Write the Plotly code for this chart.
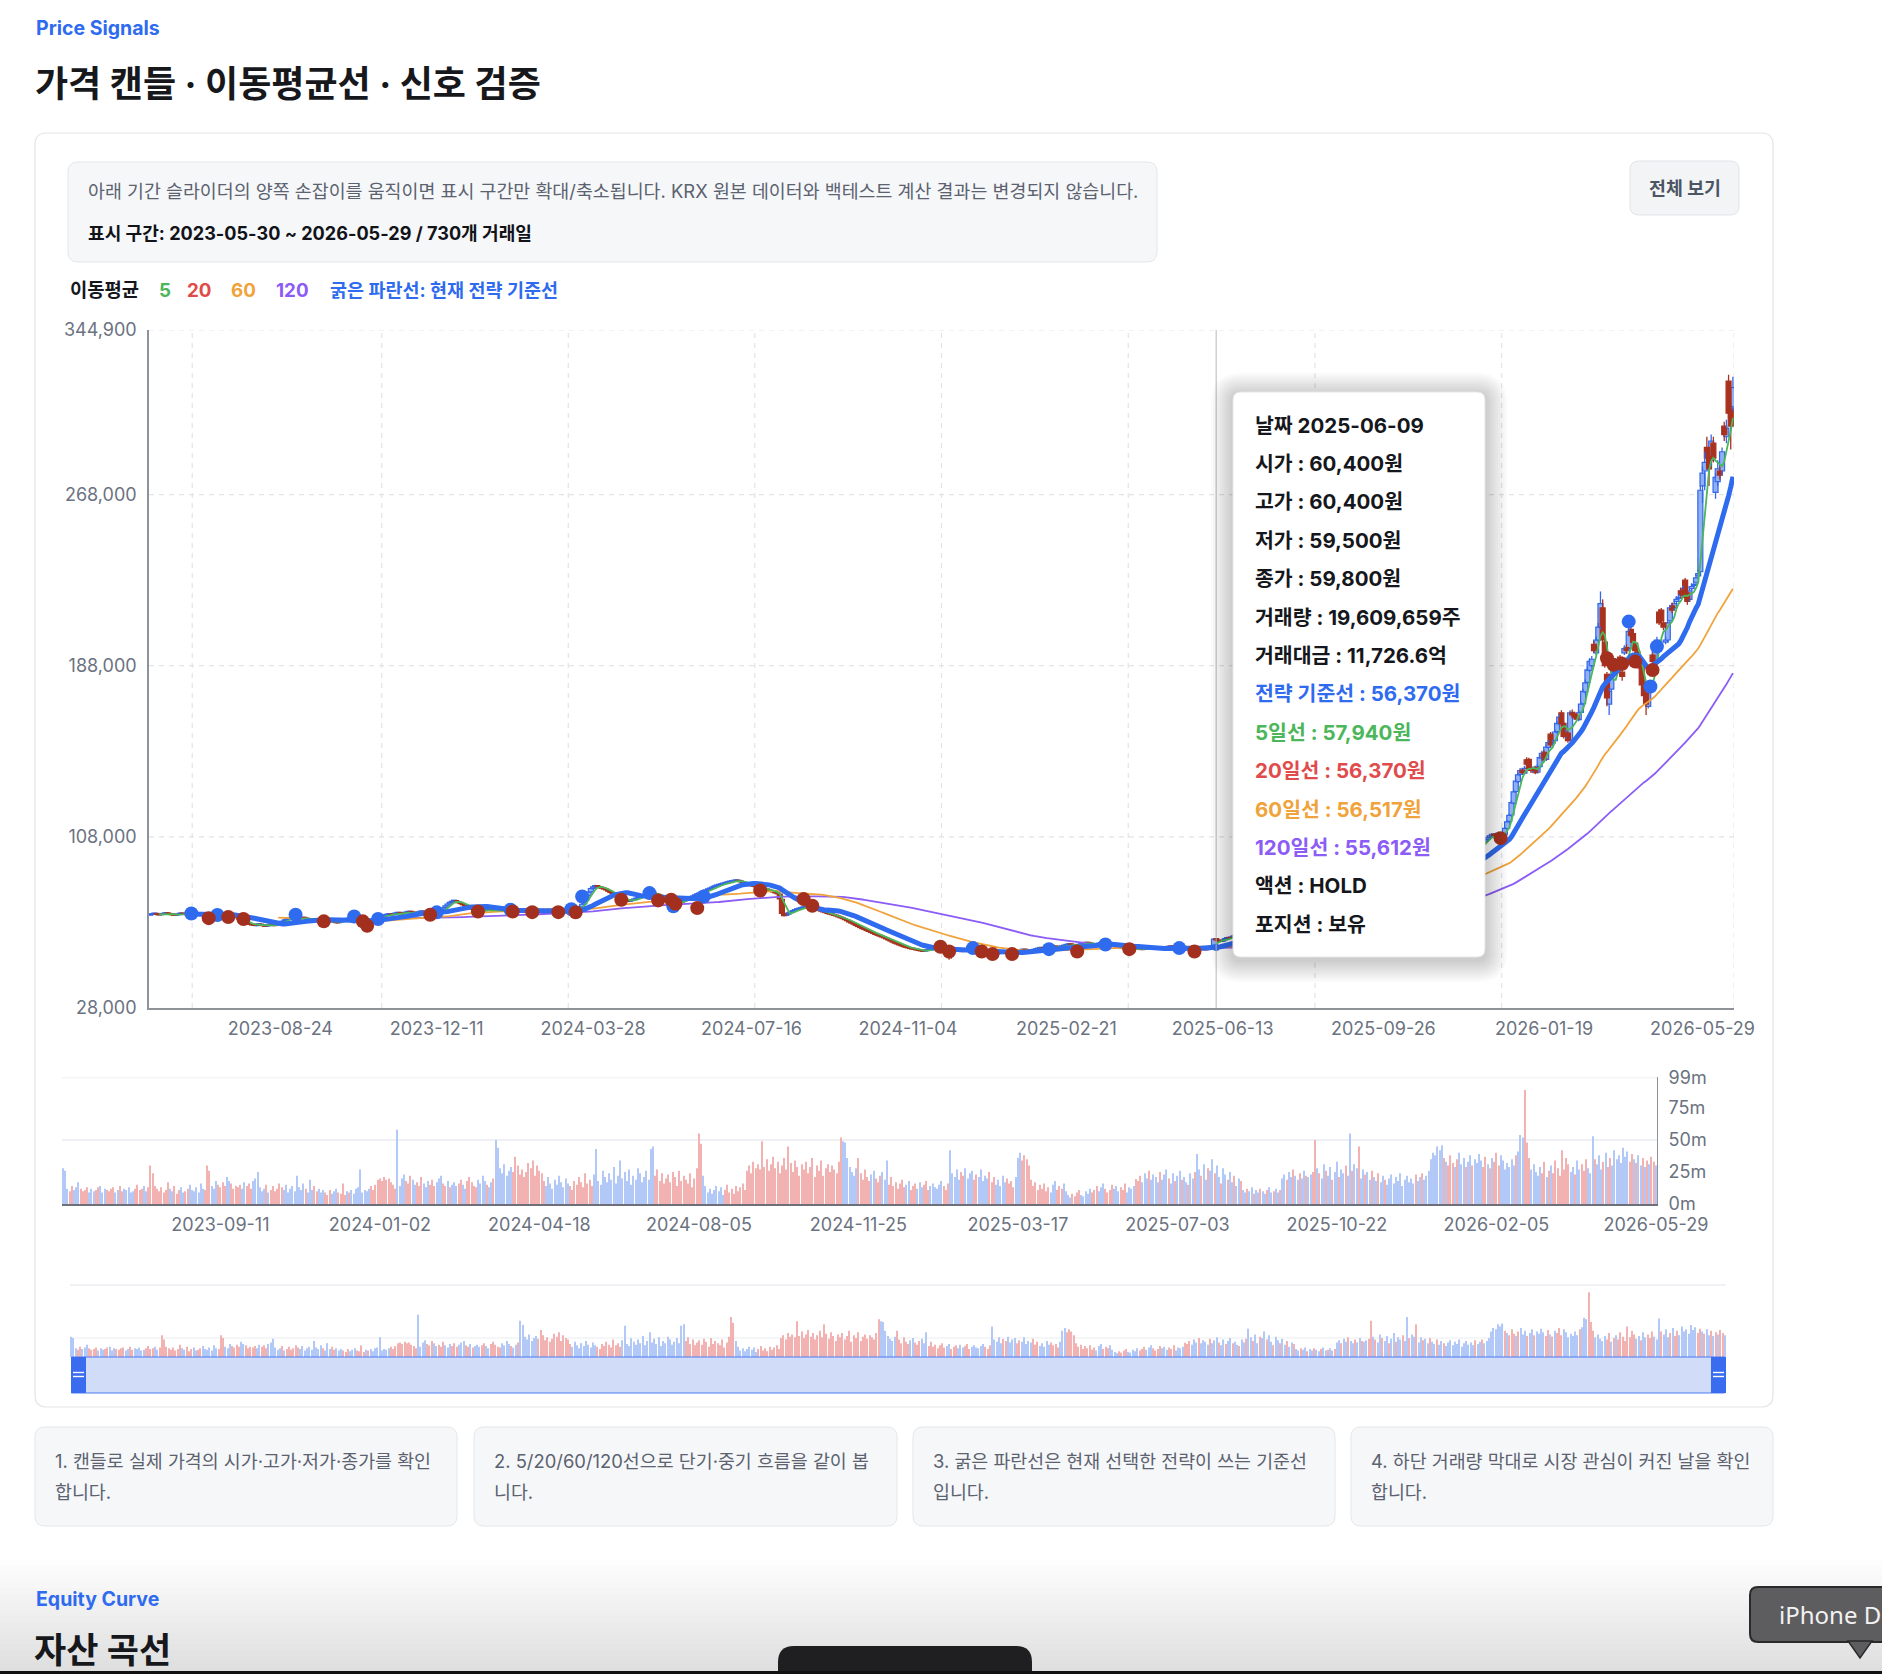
import plotly.graph_objects as go
import pandas as pd

W, H = 1882, 1674
PRICE_UNIT = 100  # price lists are in units of 100 KRW

# ---------------- data ----------------
close_p = [
716,719,722,718,715,717,720,724,721,718,716,713,715,719,722,720,717,719,723,726,
724,720,717,714,716,719,713,708,711,715,718,722,724,719,714,710,706,709,712,708,
702,696,690,684,679,675,671,668,666,669,672,668,665,662,666,670,668,665,670,675,
680,686,692,697,701,698,694,690,695,699,703,700,696,692,689,693,697,694,690,686,
683,680,684,688,685,681,678,682,686,690,694,698,701,699,704,697,692,688,684,679,
668,675,684,690,697,703,707,710,713,716,718,715,719,722,725,723,720,724,727,730,
728,725,722,726,729,732,728,724,720,718,721,716,724,729,738,748,757,766,774,779,
781,777,772,768,763,758,752,747,743,740,737,735,731,733,736,739,742,738,735,733,
735,738,736,733,731,734,737,740,736,733,730,733,736,739,735,731,734,730,733,736,
739,736,733,737,740,737,734,730,727,725,730,735,738,741,739,744,748,742,752,765,
784,805,822,838,846,852,848,843,840,836,832,826,820,815,808,802,797,792,788,782,
778,781,785,789,793,797,801,805,808,812,815,817,814,810,806,801,797,792,788,784,
779,774,768,771,776,781,785,789,794,799,804,809,813,818,822,827,832,836,841,846,
850,853,856,859,862,865,868,870,872,874,876,873,870,866,862,858,855,852,849,846,
843,840,838,835,833,830,826,822,818,814,790,722,712,718,725,730,735,739,742,745,
748,752,755,751,747,744,741,738,736,733,729,726,722,719,716,713,710,706,702,698,
693,688,682,677,672,666,661,656,651,647,642,638,633,629,624,620,616,612,608,603,
598,593,588,583,579,575,571,567,564,561,558,556,554,551,549,547,545,548,551,553,
556,559,561,563,560,557,552,548,545,543,547,551,549,546,544,548,552,555,553,550,
547,544,541,538,536,534,537,540,538,535,533,536,539,542,540,537,535,538,541,544,
547,550,553,551,548,546,549,552,555,558,561,559,556,559,562,565,568,566,563,566,
569,572,575,578,576,573,570,573,576,579,582,585,583,580,577,575,578,581,584,582,
579,576,573,571,568,566,563,561,559,557,555,553,556,559,561,558,555,553,556,559,
561,564,562,559,556,554,557,560,563,566,569,567,556,553,556,559,562,560,557,555,
553,556,559,562,560,557,552,560,565,572,602,598,594,591,597,604,609,606,612,617,
621,627,619,623,632,637,631,639,646,643,649,657,652,656,665,662,669,676,671,679,
686,683,690,695,693,701,709,705,711,718,717,725,730,727,735,742,739,747,753,750,
757,764,761,769,775,772,779,786,783,790,797,793,799,806,803,809,815,812,818,824,
821,827,833,830,836,842,839,845,851,848,854,859,856,862,867,864,870,875,872,878,
883,880,886,891,888,894,899,896,902,908,905,911,917,914,921,928,925,933,940,937,
945,952,949,958,966,963,972,981,988,995,1008,1020,1035,1050,1062,1070,1078,1085,1092,1084,
1090,1098,1072,1088,1120,1150,1180,1240,1290,1340,1370,1390,1380,1400,1420,1400,1390,1400,1380,1410,
1450,1470,1440,1500,1520,1510,1520,1570,1610,1640,1610,1550,1570,1530,1660,1650,1640,1630,1660,1700,
1760,1800,1860,1900,1910,1950,2000,2060,2170,2000,1880,1730,1760,1840,1860,1880,1900,1860,1830,1960,
1950,2040,2020,1990,1950,1900,1870,1790,1740,1700,1760,1850,1900,1960,2000,2080,2090,2060,2000,2080,
2150,2140,2170,2190,2200,2210,2240,2200,2180,2230,2250,2260,2290,2310,2700,2780,2830,2850,2800,2930,
2850,2760,2800,2770,2880,2960,2990,3060,3000,3180,
]

open_p = [
714,717,720,721,717,716,718,721,723,720,717,715,714,716,720,721,719,718,720,724,
727,723,721,717,713,717,718,712,709,712,716,719,722,723,718,713,709,707,710,711,
707,701,695,689,683,678,674,671,667,665,670,671,667,664,663,667,669,667,666,671,
676,681,687,693,698,702,697,693,691,696,700,702,699,695,691,690,694,696,693,689,
685,682,681,685,687,684,680,679,683,687,691,695,699,700,700,703,696,691,687,683,
678,669,676,685,691,698,704,708,711,714,717,719,716,720,723,724,722,721,725,728,
731,727,724,723,727,730,731,727,723,719,719,720,717,725,730,739,749,758,767,775,
780,782,776,771,767,762,757,751,746,742,739,736,734,732,734,737,740,741,737,734,
732,736,739,735,732,732,735,738,739,735,732,731,734,737,738,734,732,733,731,734,
737,738,735,734,738,739,736,733,729,726,726,731,736,739,740,740,745,747,743,753,
767,786,806,823,839,847,851,847,842,839,835,830,825,819,814,807,801,796,791,787,
781,779,782,786,790,794,798,802,806,809,813,816,818,815,811,806,802,798,793,789,
785,780,775,767,770,775,780,785,790,795,800,805,810,814,819,823,828,833,837,842,
847,851,854,857,860,863,866,869,871,873,875,875,872,869,865,861,857,854,851,848,
845,842,839,837,834,832,829,825,821,817,812,788,720,713,719,726,731,736,740,743,
746,749,753,754,750,746,743,740,737,735,732,728,725,721,718,715,712,709,705,701,
697,692,687,681,676,671,665,660,655,650,646,641,637,632,628,623,619,615,611,607,
602,597,592,587,582,578,574,570,566,563,560,557,555,553,550,548,546,546,549,552,
554,557,560,562,562,559,556,551,547,544,544,548,550,548,545,545,549,553,554,552,
549,546,543,540,537,535,535,538,539,537,534,534,537,540,541,539,536,536,539,542,
545,548,551,552,550,547,547,550,553,556,559,560,558,557,560,563,566,567,565,564,
567,570,573,576,577,575,572,571,574,577,580,583,584,582,579,576,576,579,582,583,
581,578,575,572,570,567,565,562,560,558,556,554,554,557,560,560,557,554,554,557,
560,562,563,561,558,555,555,558,561,564,567,568,565,555,554,557,560,561,559,556,
554,554,557,560,561,559,556,553,561,566,574,604,597,593,592,598,605,608,607,613,
618,622,626,620,624,633,636,632,640,645,644,650,656,653,657,664,663,670,675,672,
680,685,684,691,694,694,702,708,706,712,719,718,726,729,728,736,741,740,748,752,
751,758,763,762,770,774,773,780,785,784,791,796,794,800,805,804,810,814,813,819,
823,822,828,832,831,837,841,840,846,850,849,855,858,866,863,866,865,871,874,873,
879,882,881,887,890,889,895,898,897,903,907,906,912,916,915,922,927,926,934,939,
938,946,951,950,959,965,964,973,980,987,994,1007,1019,1034,1049,1060,1068,1076,1083,1093,
1082,1089,1096,1071,1090,1119,1152,1182,1238,1292,1338,1372,1392,1378,1440,1442,1400,1388,1402,1382,
1408,1448,1475,1442,1498,1560,1518,1530,1572,1608,1660,1610,1548,1565,1532,1662,1655,1645,1628,1662,
1702,1758,1802,1858,1880,1980,1940,2000,2060,2150,1990,1840,1700,1770,1850,1850,1870,1920,1850,1940,
1965,1960,2050,2030,1985,1945,1905,1880,1800,1750,1690,1840,1930,1890,1970,2130,2140,2080,1990,2000,
2090,2160,2150,2180,2195,2230,2210,2280,2220,2190,2240,2255,2270,2300,2320,2720,2790,2900,2860,2840,
2920,2690,2740,2790,2790,3000,2950,3210,3080,3090,
]

high_p = [
719,722,725,724,719,720,723,727,726,722,720,717,718,722,725,724,721,722,726,729,
729,726,723,720,718,722,721,715,714,718,721,725,727,726,720,716,712,712,715,714,
709,704,698,692,686,681,677,674,670,672,675,674,670,667,669,673,672,670,673,678,
683,689,695,700,704,705,700,696,698,702,706,705,702,698,694,696,700,699,696,692,
688,685,687,691,690,687,683,685,689,693,697,701,704,703,707,706,699,694,690,686,
680,678,687,693,700,706,710,713,716,719,721,722,722,725,728,727,725,727,730,733,
734,730,727,729,732,735,734,730,726,722,724,723,727,732,741,751,760,769,777,783,
785,785,779,774,770,765,760,754,749,745,742,739,737,736,739,742,745,744,740,737,
738,741,742,738,735,737,740,743,742,738,735,736,739,742,741,737,737,736,736,739,
742,741,738,740,743,742,739,735,732,729,733,738,741,744,743,747,751,750,755,768,
788,809,826,842,850,856,854,850,846,842,838,833,828,822,817,810,804,799,794,790,
784,784,788,792,796,800,804,808,811,815,818,820,821,818,814,809,805,801,796,792,
788,783,778,774,779,784,788,792,797,802,807,812,816,821,825,830,835,839,844,849,
853,856,859,862,865,868,871,873,875,877,879,878,875,872,868,864,860,857,854,851,
848,845,842,840,837,835,832,828,824,820,815,790,724,721,728,733,738,742,745,748,
751,755,758,757,753,749,746,743,740,738,735,731,728,724,721,718,715,712,708,704,
700,695,690,684,679,674,668,663,658,653,649,644,640,635,631,626,622,618,614,610,
605,600,595,590,585,581,577,573,569,566,563,560,558,556,553,551,549,551,554,556,
559,562,564,566,565,562,559,554,550,547,550,554,553,551,548,551,555,558,557,555,
552,549,546,543,540,538,540,543,542,540,537,539,542,545,544,542,539,541,544,547,
550,553,556,555,553,550,552,555,558,561,564,563,561,562,565,568,571,570,568,569,
572,575,578,581,580,578,575,576,579,582,585,588,587,585,582,579,581,584,587,586,
584,581,578,575,573,570,568,565,563,561,559,557,559,562,564,563,560,557,559,562,
564,567,566,564,561,558,560,563,566,569,572,571,567,558,559,562,565,564,562,559,
557,559,562,565,564,562,559,563,568,575,606,604,600,596,600,607,612,611,615,620,
624,630,629,626,635,640,639,642,649,648,652,660,659,659,668,667,672,679,678,682,
689,688,693,698,697,704,712,711,714,721,722,728,733,732,738,745,744,750,756,755,
760,767,766,772,778,777,782,789,788,793,800,799,802,809,808,812,818,817,821,827,
826,830,836,835,839,845,844,848,854,853,857,862,861,869,870,869,873,878,877,881,
886,885,889,894,893,897,902,901,905,911,910,914,920,919,924,931,930,936,943,942,
948,955,954,961,969,968,975,984,991,999,1012,1025,1040,1055,1067,1075,1083,1090,1097,1098,
1096,1104,1100,1092,1126,1158,1188,1250,1300,1352,1380,1402,1398,1412,1452,1450,1412,1410,1410,1420,
1462,1482,1485,1512,1532,1570,1534,1582,1622,1652,1672,1620,1582,1576,1672,1675,1664,1652,1672,1712,
1772,1815,1875,1915,1925,1995,2015,2080,2227,2190,2000,1850,1775,1855,1880,1895,1915,1930,1865,1975,
1980,2060,2065,2040,1995,1955,1915,1890,1810,1760,1775,1860,1940,1975,2015,2145,2150,2090,2015,2095,
2165,2175,2185,2205,2215,2245,2255,2290,2235,2245,2265,2275,2305,2330,2720,2810,2880,2950,2890,2960,
2950,2780,2840,2810,2900,3020,3030,3240,3100,3230,
]

low_p = [
711,714,718,716,712,713,716,719,719,715,713,710,711,714,718,717,714,716,718,721,
721,718,714,711,710,714,710,705,706,709,713,716,719,716,711,707,703,704,707,705,
699,693,687,681,676,672,668,665,663,662,667,665,662,659,660,664,665,662,663,668,
673,678,684,690,695,695,691,687,688,693,697,697,693,689,686,687,691,691,687,683,
680,677,678,682,682,678,675,676,680,684,688,692,696,696,697,694,689,685,681,676,
665,666,673,682,688,695,701,705,708,711,714,712,713,717,720,720,717,718,722,725,
725,722,719,720,724,727,725,721,717,715,716,713,714,722,727,736,746,755,764,771,
776,774,769,765,760,755,749,744,740,737,734,732,728,729,731,734,737,735,732,730,
729,733,733,730,728,729,732,735,733,730,727,728,731,734,732,728,729,727,728,731,
734,733,730,731,735,734,731,727,724,722,723,728,733,736,736,737,742,739,740,750,
763,782,802,819,835,843,844,839,836,833,829,823,817,812,805,799,794,789,785,779,
775,776,779,783,787,791,795,799,803,806,810,813,811,807,803,798,794,789,785,781,
776,771,765,764,767,772,777,782,787,792,797,802,807,811,816,820,825,830,834,839,
844,848,851,854,857,860,863,866,868,870,872,870,867,863,859,855,852,849,846,843,
840,837,835,832,830,827,823,819,815,811,786,718,708,710,716,723,728,733,737,740,
743,746,750,748,744,741,738,735,733,730,726,723,719,716,713,710,707,703,699,695,
690,685,679,674,669,663,658,653,648,644,639,635,630,626,621,617,613,609,605,600,
595,590,585,580,576,572,568,564,561,558,555,553,551,548,546,544,542,543,546,549,
551,554,557,559,557,554,549,512,505,510,541,545,546,543,541,542,546,550,550,547,
544,541,538,535,533,531,532,535,535,532,530,531,534,537,537,534,532,533,536,539,
542,545,548,549,545,543,544,547,550,553,556,556,553,554,557,560,563,563,560,561,
564,567,570,573,573,570,567,568,571,574,577,580,580,577,574,572,573,576,579,579,
576,573,570,568,565,563,560,558,556,554,552,550,551,554,557,555,552,550,551,554,
557,559,559,556,553,551,552,555,558,561,564,564,553,550,551,554,557,557,554,552,
550,551,554,557,557,554,549,551,558,563,572,595,591,588,589,595,602,603,604,610,
615,619,616,617,621,630,628,629,637,640,641,647,649,650,654,659,660,667,668,669,
677,680,681,688,690,691,699,702,703,709,714,715,723,724,725,733,736,737,745,747,
748,755,758,759,767,769,770,777,780,781,788,790,791,797,800,801,807,809,810,816,
818,819,825,827,828,834,836,837,843,845,846,852,853,854,860,861,862,868,869,870,
876,877,878,884,885,886,892,893,894,900,902,903,909,911,912,919,922,923,931,934,
935,943,946,947,956,960,961,970,977,984,991,1003,1015,1030,1045,1056,1064,1072,1079,1080,
1076,1084,1066,1064,1086,1112,1146,1176,1232,1285,1330,1362,1372,1370,1412,1392,1378,1380,1372,1376,
1400,1440,1430,1435,1490,1500,1505,1522,1565,1600,1600,1540,1540,1520,1525,1640,1630,1620,1620,1655,
1695,1750,1795,1850,1870,1940,1930,1990,2050,1985,1870,1690,1650,1760,1835,1840,1860,1850,1810,1930,
1935,1950,2010,1980,1940,1890,1860,1780,1725,1650,1680,1830,1890,1880,1960,2070,2080,2045,1980,1990,
2080,2125,2140,2170,2185,2195,2200,2190,2165,2180,2230,2245,2260,2290,2300,2640,2700,2830,2720,2810,
2830,2660,2720,2750,2770,2930,2920,3040,2890,3070,
]

volume_m = [  # millions of shares
28,26,12,10,14,11,13,17,12,10,11,13,9,12,10,11,13,14,9,12,
11,10,12,13,9,11,14,10,12,11,13,9,10,12,15,11,12,14,10,13,
30,24,14,12,10,13,9,11,17,12,10,14,8,11,13,9,10,12,15,11,
10,13,9,16,12,11,30,26,14,12,18,15,13,17,14,21,18,16,12,14,
13,15,12,17,14,16,12,18,20,25,13,10,12,15,9,11,14,10,12,16,
13,11,15,9,12,14,10,22,13,11,16,12,9,19,11,14,10,12,9,11,
9,7,11,8,10,12,9,8,16,7,10,9,11,8,12,13,27,9,11,10,
12,14,11,15,19,20,18,21,19,20,17,15,12,58,14,20,23,18,16,22,
19,15,17,14,21,16,13,18,15,19,14,17,20,22,16,14,18,13,15,17,
14,16,19,15,12,18,21,17,14,13,19,16,22,18,15,13,17,20,50,44,
28,24,31,22,26,29,25,37,30,23,27,21,25,32,28,34,22,30,26,24,
18,14,21,16,12,19,15,22,17,13,20,16,14,11,18,15,21,17,13,24,
16,19,14,23,43,18,15,26,21,17,24,19,29,16,22,34,20,25,18,27,
15,22,19,28,24,17,21,26,19,43,45,22,27,18,24,16,20,23,17,25,
21,14,26,18,22,19,16,24,13,20,28,55,47,22,14,9,12,8,11,14,
10,13,7,11,15,9,12,8,14,10,13,16,11,26,30,24,33,28,31,27,
49,29,35,26,31,37,28,33,24,30,36,27,45,32,25,34,29,22,31,27,
33,24,29,36,21,30,26,34,22,28,31,25,30,27,24,33,52,49,48,36,
29,25,22,28,36,24,19,27,21,18,23,26,20,17,22,25,19,34,15,21,
14,17,12,16,19,13,15,18,11,14,16,12,17,13,15,18,11,14,16,13,
12,15,18,14,11,16,42,24,21,27,19,25,22,28,20,24,26,19,23,21,
27,18,22,20,25,17,21,15,19,14,22,17,20,16,18,13,21,36,40,34,
38,35,30,19,14,17,11,15,12,16,10,13,9,15,18,11,14,12,16,10,
7,5,8,6,9,11,7,6,10,8,12,9,11,14,10,13,16,12,9,11,
15,12,14,10,13,11,16,9,13,12,14,19.6,18,22,17,24,20,26,19,23,
21,17,25,19,23,27,20,16,24,18,22,26,19,21,17,15,24,20,25,39,
27,22,31,19,28,26,35,24,30,21,16,28,23,19,25,17,22,14,20,18,
11,9,12,10,13,8,11,9,12,10,8,11,13,9,10,12,9,11,20,23,
19,25,21,27,22,19,24,20,26,22,21,23,25,50,28,24,20,31,26,22,
29,19,25,33,21,27,24,30,22,55,26,31,28,45,20,27,23,25,19,26,
21,18,24,17,22,19,15,20,23,16,21,18,24,14,19,22,17,20,16,23,
18,21,24,19,22,26,35,40,38,45,42,46,36,33,30,38,32,29,35,40,
31,36,29,33,38,30,35,32,39,34,29,37,31,28,36,33,40,30,38,34,
27,32,29,35,30,38,41,54,52,89,48,36,27,31,25,22,29,24,33,21,
26,30,24,34,28,22,42,27,36,31,25,29,23,34,27,31,26,35,28,24,
53,35,31,38,27,33,40,29,36,30,42,35,38,32,44,37,41,33,39,35,
32,38,30,36,29,34,31,37,33,30,
]

buy_idx = [19, 31, 67, 94, 105, 132, 166, 194, 199, 230, 241, 255, 379, 414, 440, 474, 681, 691, 694]
buy_px = [722, 715, 716, 708, 696, 727, 739, 742, 801, 817, 755, 801, 560, 555, 577, 560, 2086, 1783, 1970]
sell_idx = [27, 36, 43, 80, 98, 100, 129, 151, 167, 176, 188, 196, 217, 234, 240, 242, 252, 281, 301, 305,
            364, 368, 383, 388, 397, 427, 451, 481, 622, 671, 674, 678, 684, 692]
sell_px = [700, 705, 696, 685, 685, 664, 716, 731, 731, 728, 728, 727, 786, 783, 786, 767, 747, 829, 789, 758,
           566, 544, 544, 532, 532, 544, 555, 544, 1074, 1915, 1884, 1889, 1899, 1860]

main_tick_idx = [60, 132, 204, 277, 349, 422, 494, 568, 642, 715]
main_tick_text = ["2023-08-24", "2023-12-11", "2024-03-28", "2024-07-16", "2024-11-04",
                  "2025-02-21", "2025-06-13", "2025-09-26", "2026-01-19", "2026-05-29"]
vol_tick_idx = [72, 145, 218, 291, 364, 437, 510, 583, 656, 729]
vol_tick_text = ["2023-09-11", "2024-01-02", "2024-04-18", "2024-08-05", "2024-11-25",
                 "2025-03-17", "2025-07-03", "2025-10-22", "2026-02-05", "2026-05-29"]
price_ticks = [28000, 108000, 188000, 268000, 344900]
vol_ticks = [0, 25, 50, 75, 99]
vol_tick_text_y = ["0m", "25m", "50m", "75m", "99m"]
vgrid_idx = [19.4, 106.7, 192.6, 278.5, 364.5, 450.5, 536.5, 622.5, 729.5]
hover_idx = 491

tooltip_lines = [
    ("날짜 2025-06-09", "dark"), ("시가 : 60,400원", "dark"), ("고가 : 60,400원", "dark"),
    ("저가 : 59,500원", "dark"), ("종가 : 59,800원", "dark"), ("거래량 : 19,609,659주", "dark"),
    ("거래대금 : 11,726.6억", "dark"), ("전략 기준선 : 56,370원", "blue"), ("5일선 : 57,940원", "green"),
    ("20일선 : 56,370원", "red"), ("60일선 : 56,517원", "orange"), ("120일선 : 55,612원", "purple"),
    ("액션 : HOLD", "dark"), ("포지션 : 보유", "dark"),
]
card_texts = [
    ("1. 캔들로 실제 가격의 시가·고가·저가·종가를 확인", "합니다."),
    ("2. 5/20/60/120선으로 단기·중기 흐름을 같이 봅", "니다."),
    ("3. 굵은 파란선은 현재 선택한 전략이 쓰는 기준선", "입니다."),
    ("4. 하단 거래량 막대로 시장 관심이 커진 날을 확인", "합니다."),
]

# ---------------- style ----------------
FONT = "Inter, Noto Sans CJK KR, sans-serif"
COL = dict(dark="#15171c", blue="#2f6bef", green="#4cb65a", red="#e04b4b",
           orange="#f0a33b", purple="#8b5cf6")
SELL = "#a3301f"
UP_FILL, UP_LINE = "#8fb0f5", "#3467ea"
DN_FILL = "#a8321f"
VOL_UP, VOL_DN = "#b2c8f7", "#f3b2b2"
GRAY_TXT = "#6b7280"

# ---------------- derived ----------------
n = min(len(close_p), len(open_p), len(high_p), len(low_p), len(volume_m))
xs = list(range(n))
O = [open_p[i] * PRICE_UNIT for i in xs]
C = [close_p[i] * PRICE_UNIT for i in xs]
Hi = [max(high_p[i], open_p[i], close_p[i]) * PRICE_UNIT for i in xs]
Lo = [min(low_p[i], open_p[i], close_p[i]) * PRICE_UNIT for i in xs]
up = [C[i] >= O[i] for i in xs]
cs = pd.Series(C, dtype=float)
ma = {w: cs.rolling(w).mean() for w in (5, 20, 60, 120)}


def fx(x):
    return x / W


def fy(y):
    return 1 - y / H


def P(x, y):
    return f"{fx(x):.6f},{fy(y):.6f}"


def rrect(x0, y0, x1, y1, r, fill, line=None, lw=1.0, layer="below"):
    path = (f"M{P(x0 + r, y0)} L{P(x1 - r, y0)} Q{P(x1, y0)} {P(x1, y0 + r)} "
            f"L{P(x1, y1 - r)} Q{P(x1, y1)} {P(x1 - r, y1)} L{P(x0 + r, y1)} "
            f"Q{P(x0, y1)} {P(x0, y1 - r)} L{P(x0, y0 + r)} Q{P(x0, y0)} {P(x0 + r, y0)} Z")
    return dict(type="path", xref="paper", yref="paper", path=path, fillcolor=fill,
                line=dict(color=line if line else "rgba(0,0,0,0)", width=lw if line else 0),
                layer=layer)


def rect(x0, y0, x1, y1, fill, layer="below"):
    return dict(type="rect", xref="paper", yref="paper", x0=fx(x0), x1=fx(x1), y0=fy(y1), y1=fy(y0),
                fillcolor=fill, line=dict(width=0), layer=layer)


def txt(x, y, s, size, color, bold=False, anchor="left", family=FONT):
    return dict(x=fx(x), y=fy(y), xref="paper", yref="paper", text=(f"<b>{s}</b>" if bold else s),
                showarrow=False, xanchor=anchor, yanchor="middle",
                font=dict(size=size, color=color, family=family))


# ---------------- traces ----------------
traces = []
MIN_BODY = 400
for is_up, fill, lc in [(True, UP_FILL, UP_LINE), (False, DN_FILL, DN_FILL)]:
    ids = [i for i in xs if up[i] == is_up]
    base = [min(O[i], C[i]) for i in ids]
    hgt = [max(abs(C[i] - O[i]), MIN_BODY) for i in ids]
    traces.append(go.Bar(x=ids, y=hgt, base=base, width=2.3, xaxis="x", yaxis="y",
                         marker=dict(color=fill, line=dict(color=lc, width=1.2)), hoverinfo="skip"))
    wx, wy = [], []
    for i in ids:
        top, bot = max(O[i], C[i]), min(O[i], C[i])
        wx += [i, i, None, i, i, None]
        wy += [top, Hi[i], None, bot, Lo[i], None]
    traces.append(go.Scatter(x=wx, y=wy, mode="lines", line=dict(color=lc, width=1.3),
                             xaxis="x", yaxis="y", hoverinfo="skip"))

for w, col in [(120, COL["purple"]), (60, COL["orange"]), (20, COL["red"]), (5, COL["green"])]:
    traces.append(go.Scatter(x=xs, y=ma[w], mode="lines", line=dict(color=col, width=1.8),
                             xaxis="x", yaxis="y", hoverinfo="skip"))
traces.append(go.Scatter(x=xs, y=ma[20], mode="lines", line=dict(color=COL["blue"], width=5),
                         xaxis="x", yaxis="y", hoverinfo="skip"))
traces.append(go.Scatter(x=buy_idx, y=[p * PRICE_UNIT for p in buy_px], mode="markers",
                         marker=dict(size=14, color=COL["blue"]), xaxis="x", yaxis="y"))
traces.append(go.Scatter(x=sell_idx, y=[p * PRICE_UNIT for p in sell_px], mode="markers",
                         marker=dict(size=14, color=SELL), xaxis="x", yaxis="y"))
traces.append(go.Scatter(x=[hover_idx], y=[ma[20][hover_idx]], mode="markers",
                         marker=dict(size=7, color=COL["blue"]), xaxis="x", yaxis="y"))

vcol = [VOL_UP if up[i] else VOL_DN for i in xs]
traces.append(go.Bar(x=xs, y=volume_m[:n], width=0.5, marker=dict(color=vcol, line=dict(width=0)),
                     xaxis="x2", yaxis="y2", hoverinfo="skip"))
traces.append(go.Bar(x=xs, y=volume_m[:n], width=0.5, marker=dict(color=vcol, line=dict(width=0)),
                     xaxis="x3", yaxis="y3", hoverinfo="skip"))

fig = go.Figure(data=traces)

# ---------------- shapes ----------------
shapes = []
for k in range(20):
    v = int(255 - (k + 1) * 1.6)
    shapes.append(rect(0, 1560 + k * 5.6, W, 1560 + (k + 1) * 5.6 + 0.5, f"rgb({v},{v},{v})"))
shapes.append(rrect(35, 133, 1773, 1407, 12, "white", "#e3e5e9", 1.2))
shapes.append(rrect(68, 162, 1157, 262, 10, "#f6f7f9", "#e4e6ea", 1.0))
shapes.append(rrect(1630, 161, 1739, 215, 9, "#f3f4f6", "#e1e3e7", 1.0))
for x0, x1 in [(35, 457), (474, 897), (913, 1335), (1351, 1773)]:
    shapes.append(rrect(x0, 1427, x1, 1526, 10, "#f6f7f9", "#e4e6ea", 1.0))

for v in price_ticks[1:]:
    shapes.append(dict(type="line", xref="x", yref="y", x0=-0.5, x1=729.5, y0=v, y1=v,
                       line=dict(color="#e2e4e8", width=1.2, dash="5px,5px"), layer="below"))
for v in vgrid_idx:
    shapes.append(dict(type="line", xref="x", yref="y", x0=v, x1=v, y0=28000, y1=344900,
                       line=dict(color="#e2e4e8", width=1.2, dash="5px,5px"), layer="below"))
for v in (50, 99):
    shapes.append(dict(type="line", xref="x2", yref="y2", x0=-0.5, x1=729.5, y0=v, y1=v,
                       line=dict(color="#eef0f4", width=2), layer="below"))
shapes.append(dict(type="line", xref="paper", yref="paper", x0=fx(70), x1=fx(1726), y0=fy(1285), y1=fy(1285),
                   line=dict(color="#eceef2", width=1.5), layer="below"))
shapes.append(dict(type="line", xref="paper", yref="paper", x0=fx(70), x1=fx(1726), y0=fy(1338), y1=fy(1338),
                   line=dict(color="#f2f3f6", width=1.5), layer="below"))
shapes.append(dict(type="rect", xref="paper", yref="paper", x0=fx(72), x1=fx(1724), y0=fy(1393), y1=fy(1357),
                   fillcolor="#d0dcf8", line=dict(color="#4d7cf2", width=1.2), layer="above"))
for hx0 in (71, 1711):
    shapes.append(dict(type="rect", xref="paper", yref="paper", x0=fx(hx0), x1=fx(hx0 + 15),
                       y0=fy(1393), y1=fy(1357), fillcolor="#3a6cf0", line=dict(width=0), layer="above"))
    for yy in (1372.5, 1376.5):
        shapes.append(dict(type="line", xref="paper", yref="paper", x0=fx(hx0 + 2), x1=fx(hx0 + 13),
                           y0=fy(yy), y1=fy(yy), line=dict(color="white", width=1.4), layer="above"))
shapes.append(dict(type="line", xref="x", yref="y", x0=hover_idx, x1=hover_idx, y0=28000, y1=344900,
                   line=dict(color="#b8b8b8", width=1), layer="above"))
TX0, TY0, TX1, TY1 = 1233, 392, 1485, 957
for k in range(10, 0, -1):
    e = k * 2.2
    shapes.append(rrect(TX0 - e, TY0 - e + 3, TX1 + e, TY1 + e + 3, 8 + e, "rgba(0,0,0,0.018)",
                        layer="above"))
shapes.append(rrect(TX0, TY0, TX1, TY1, 8, "white", "#e6e6e6", 1.0, layer="above"))
shapes.append(rrect(778, 1646, 1032, 1690, 16, "#1f1f21", layer="above"))
shapes.append(rect(0, 1671, W, H + 2, "#111111", layer="above"))
shapes.append(rrect(1750, 1587, 1892, 1642, 8, "#5d5d60", "#2a2a2a", 2.0, layer="above"))
shapes.append(dict(type="path", xref="paper", yref="paper",
                   path=f"M{P(1848, 1641)} L{P(1872, 1641)} L{P(1860, 1658)} Z",
                   fillcolor="#5d5d60", line=dict(color="#2a2a2a", width=1.5), layer="above"))

# ---------------- annotations ----------------
ann = [
    txt(34, 28, "Price Signals", 19.5, COL["blue"], bold=True),
    txt(33, 84, "가격 캔들 · 이동평균선 · 신호 검증", 36, "#17181c", bold=True),
    txt(86, 191, "아래 기간 슬라이더의 양쪽 손잡이를 움직이면 표시 구간만 확대/축소됩니다. "
                 "KRX 원본 데이터와 백테스트 계산 결과는 변경되지 않습니다.", 18.4, "#5b6270"),
    txt(86, 233, "표시 구간: 2023-05-30 ~ 2026-05-29 / 730개 거래일", 18.1, "#111318", bold=True),
    txt(1684.5, 188, "전체 보기", 18.4, "#4b5563", bold=True, anchor="center"),
    txt(68, 290, "이동평균", 18.8, "#15171c", bold=True),
    txt(157, 290, "5", 18.8, COL["green"], bold=True),
    txt(185, 290, "20", 18.8, COL["red"], bold=True),
    txt(229, 290, "60", 18.8, COL["orange"], bold=True),
    txt(274, 290, "120", 18.8, COL["purple"], bold=True),
    txt(328, 290, "굵은 파란선: 현재 전략 기준선", 18.5, COL["blue"], bold=True),
    txt(34, 1599, "Equity Curve", 19.5, COL["blue"], bold=True),
    txt(32, 1650, "자산 곡선", 35, "#17181c", bold=True),
    txt(1777, 1614, "iPhone D", 24, "#f2f2f2", family="Noto Sans, sans-serif"),
]
for k, (s, c) in enumerate(tooltip_lines):
    ann.append(txt(1253, 425 + 38.4 * k, s, 20.5, COL[c], bold=True))
for (x0, _), (l1, l2) in zip([(35, 457), (474, 897), (913, 1335), (1351, 1773)], card_texts):
    ann.append(txt(x0 + 18, 1461, l1, 18.4, "#5b6270"))
    ann.append(txt(x0 + 18, 1492, l2, 18.4, "#5b6270"))

tickfont = dict(size=18, color=GRAY_TXT, family=FONT)
fig.update_layout(
    width=W, height=H, margin=dict(l=0, r=0, t=0, b=0, pad=0, autoexpand=False), autosize=False,
    paper_bgcolor="white", plot_bgcolor="rgba(0,0,0,0)", showlegend=False,
    barmode="overlay", hovermode=False, font=dict(family=FONT),
    shapes=shapes, annotations=ann,
    xaxis=dict(domain=[fx(149), fx(1734)], range=[-0.5, 729.5], anchor="y", showgrid=False,
               zeroline=False, showline=True, linecolor="#8e9299", linewidth=1.6, automargin=False,
               tickmode="array", tickvals=main_tick_idx, ticktext=main_tick_text, ticks="",
               tickfont=tickfont, ticklabelstandoff=4),
    yaxis=dict(domain=[fy(1008), fy(330)], range=[28000, 344900], anchor="x", showgrid=False,
               zeroline=False, showline=True, linecolor="#8e9299", linewidth=1.6, automargin=False,
               tickmode="array", tickvals=price_ticks, ticktext=[f"{v:,}" for v in price_ticks],
               ticks="", tickfont=tickfont, ticklabelstandoff=7),
    xaxis2=dict(domain=[fx(62), fx(1657)], range=[-0.5, 729.5], anchor="y2", showgrid=False,
                zeroline=False, showline=True, linecolor="#6e7079", linewidth=2.4, automargin=False,
                tickmode="array", tickvals=vol_tick_idx, ticktext=vol_tick_text, ticks="",
                tickfont=tickfont, ticklabelstandoff=3),
    yaxis2=dict(domain=[fy(1204), fy(1077.3)], range=[0, 99], anchor="x2", side="right",
                showgrid=False, zeroline=False, showline=True, linecolor="#8e9299", linewidth=1,
                automargin=False, tickmode="array", tickvals=vol_ticks, ticktext=vol_tick_text_y,
                ticks="", tickfont=tickfont, ticklabelstandoff=7),
    xaxis3=dict(domain=[fx(70), fx(1726)], range=[-0.5, 729.5], anchor="y3", visible=False,
                automargin=False),
    yaxis3=dict(domain=[fy(1357), fy(1285)], range=[0, 99], anchor="x3", visible=False,
                automargin=False),
)

fig.write_html("out.html")
